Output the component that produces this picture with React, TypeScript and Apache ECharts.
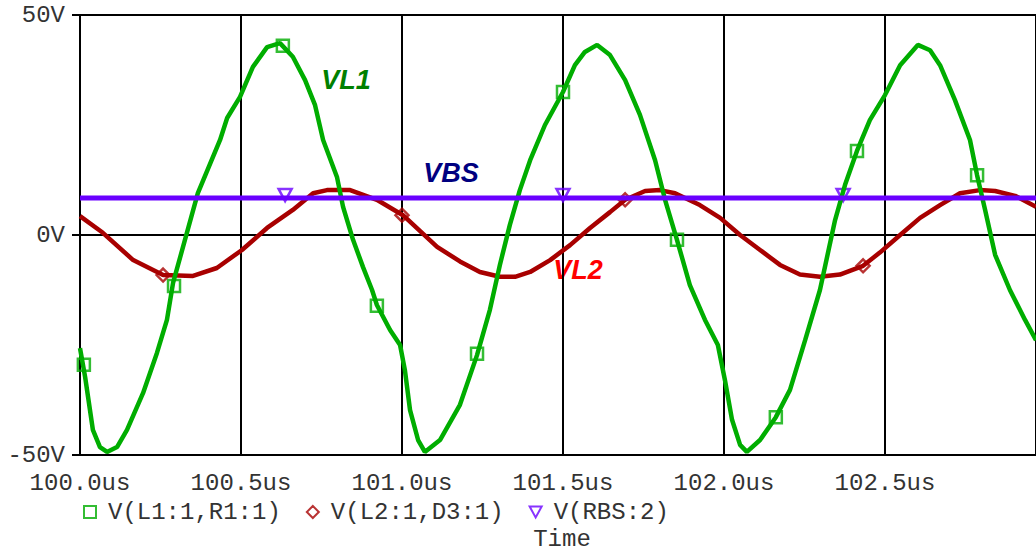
import React, { useEffect, useRef } from 'react';
import * as echarts from 'echarts';

// V(L1:1,R1:1) trace
const vl1Time = [100.000, 100.016, 100.025, 100.040, 100.062, 100.084, 100.115, 100.146, 100.196, 100.239, 100.270, 100.289, 100.366, 100.435, 100.457, 100.497, 100.537, 100.581, 100.621, 100.661, 100.699, 100.730, 100.755, 100.798, 100.817, 100.848, 100.879, 100.907, 100.922, 100.963, 100.994, 101.009, 101.025, 101.050, 101.071, 101.118, 101.180, 101.233, 101.273, 101.304, 101.335, 101.366, 101.398, 101.444, 101.500, 101.537, 101.568, 101.606, 101.646, 101.693, 101.739, 101.786, 101.817, 101.854, 101.894, 101.941, 101.981, 102.003, 102.025, 102.050, 102.071, 102.112, 102.161, 102.205, 102.252, 102.298, 102.345, 102.376, 102.413, 102.453, 102.500, 102.547, 102.602, 102.640, 102.671, 102.717, 102.764, 102.786, 102.811, 102.842, 102.888, 102.935, 102.969];
const vl1Values = [-25.7, -32.3, -36.8, -44.3, -48.2, -49.3, -48.2, -44.3, -35.9, -26.8, -19.3, -10.9, 9.5, 21.6, 26.6, 31.4, 38.2, 42.7, 43.6, 40.5, 35.2, 29.5, 21.6, 13.2, 6.4, -1.1, -7.3, -12.5, -15.9, -21.6, -25.0, -30.7, -39.8, -46.6, -49.3, -46.6, -38.6, -27.3, -17.0, -6.8, 2.3, 10.2, 17.0, 25.0, 32.5, 38.6, 41.6, 43.2, 40.9, 35.2, 27.3, 17.0, 8.0, -1.1, -11.4, -19.3, -25.0, -33.0, -42.0, -47.7, -49.3, -46.6, -41.4, -35.2, -23.9, -12.5, 3.4, 11.4, 19.1, 26.1, 31.8, 38.6, 43.2, 42.0, 38.6, 30.7, 21.6, 13.6, 5.7, -4.5, -12.5, -19.3, -23.9];
const vl1MarkerTime = [100.012, 100.292, 100.630, 100.922, 101.233, 101.500, 101.854, 102.161, 102.413, 102.786];
const vl1MarkerValues = [-29.5, -11.6, 43.0, -16.1, -27.0, 32.5, -1.1, -41.4, 19.1, 13.6];

// V(L2:1,D3:1) trace
const vl2Time = [100.000, 100.071, 100.165, 100.258, 100.351, 100.425, 100.503, 100.581, 100.661, 100.724, 100.767, 100.839, 100.922, 101.003, 101.109, 101.180, 101.242, 101.304, 101.351, 101.398, 101.460, 101.522, 101.584, 101.646, 101.693, 101.755, 101.801, 101.848, 101.925, 101.988, 102.050, 102.112, 102.174, 102.236, 102.298, 102.360, 102.432, 102.484, 102.547, 102.609, 102.671, 102.733, 102.795, 102.842, 102.904, 102.969];
const vl2Values = [4.3, 0.5, -5.7, -9.1, -9.3, -7.5, -3.4, 1.6, 5.7, 9.5, 10.2, 10.2, 8.0, 4.5, -2.7, -6.0, -8.4, -9.5, -9.5, -8.4, -5.7, -2.3, 1.6, 5.2, 8.0, 10.0, 10.2, 9.5, 6.8, 3.9, 0.0, -3.4, -6.8, -9.0, -9.5, -9.0, -7.0, -4.0, 0.0, 3.9, 6.8, 9.5, 10.2, 10.0, 8.9, 6.4];
const vl2MarkerTime = [100.258, 101.000, 101.693, 102.432];
const vl2MarkerValues = [-9.1, 4.5, 8.0, -7.0];

// V(RBS:2) trace
const vbsTime = [100.000, 102.969];
const vbsValues = [8.4, 8.4];
const vbsMarkerTime = [100.637, 101.500, 102.370];
const vbsMarkerValues = [8.4, 8.4, 8.4];

const legendNames = ['V(L1:1,R1:1)', 'V(L2:1,D3:1)', 'V(RBS:2)'];
const xTickLabelsUnit = 'us';
const yTickLabelsUnit = 'V';

const GREEN = '#00ad00';
const RED = '#a80000';
const BLUE = '#6a00ff';
const MONO = '"Liberation Mono", "Courier New", monospace';

const zip = (t: number[], v: number[]) => t.map((x, i) => [x, v[i]]);

export default function App() {
  const ref = useRef<HTMLDivElement>(null);
  useEffect(() => {
    document.body.style.margin = '0';
    const chart = echarts.init(ref.current!, null, { renderer: 'svg' });
    const option: any = {
      animation: false,
      backgroundColor: '#fff',
      grid: { left: 80, right: 0, top: 15, bottom: 98, containLabel: false, outerBoundsMode: 'none' },
      legend: {
        data: legendNames,
        left: 78,
        top: 495,
        itemWidth: 12,
        itemHeight: 12,
        itemGap: 25,
        textStyle: { fontFamily: MONO, fontSize: 24, color: '#333', padding: [0, 0, 0, 7] },
      },
      xAxis: {
        type: 'value',
        min: 100,
        max: 102.969,
        interval: 0.5,
        name: 'Time',
        nameLocation: 'middle',
        nameGap: 72,
        nameTextStyle: { fontFamily: MONO, fontSize: 24, color: '#333', padding: [0, 0, 0, 8] },
        axisLine: { show: true, lineStyle: { color: '#000', width: 2 } },
        axisTick: { show: true, length: 9, lineStyle: { color: '#000', width: 2 } },
        axisLabel: {
          fontFamily: MONO,
          fontSize: 24,
          color: '#333',
          margin: 16,
          showMaxLabel: false,
          formatter: (v: number) => v.toFixed(1) + xTickLabelsUnit,
        },
        splitLine: { show: true, lineStyle: { color: '#000', width: 2 } },
      },
      yAxis: {
        type: 'value',
        min: -50,
        max: 50,
        interval: 50,
        axisLine: { show: true, lineStyle: { color: '#000', width: 2 } },
        axisTick: { show: true, length: 8, lineStyle: { color: '#000', width: 2 } },
        axisLabel: {
          fontFamily: MONO,
          fontSize: 24,
          color: '#333',
          margin: 15,
          formatter: (v: number) => v + yTickLabelsUnit,
        },
        splitLine: { show: true, lineStyle: { color: '#000', width: 2 } },
      },
      series: [
        {
          name: 'VL2 trace',
          type: 'line',
          data: zip(vl2Time, vl2Values),
          showSymbol: false,
          lineStyle: { color: RED, width: 4.5 },
          itemStyle: { color: RED },
        },
        {
          name: 'VL1 trace',
          type: 'line',
          data: zip(vl1Time, vl1Values),
          showSymbol: false,
          lineStyle: { color: GREEN, width: 4.5 },
          itemStyle: { color: GREEN },
        },
        {
          name: 'VBS trace',
          type: 'line',
          data: zip(vbsTime, vbsValues),
          showSymbol: false,
          lineStyle: { color: BLUE, width: 5 },
          itemStyle: { color: BLUE },
        },
        {
          name: legendNames[0],
          type: 'scatter',
          data: zip(vl1MarkerTime, vl1MarkerValues),
          symbol: 'rect',
          symbolSize: 12,
          itemStyle: { color: 'rgba(0,0,0,0)', borderColor: GREEN, borderWidth: 2.5 },
        },
        {
          name: legendNames[1],
          type: 'scatter',
          data: zip(vl2MarkerTime, vl2MarkerValues),
          symbol: 'diamond',
          symbolSize: 13,
          itemStyle: { color: 'rgba(0,0,0,0)', borderColor: RED, borderWidth: 2.5 },
        },
        {
          name: legendNames[2],
          type: 'scatter',
          data: zip(vbsMarkerTime, vbsMarkerValues),
          symbol: 'path://M0,0L10,0L5,9Z',
          symbolSize: [13, 12],
          symbolOffset: [0, -3],
          itemStyle: { color: 'rgba(0,0,0,0)', borderColor: BLUE, borderWidth: 2.5 },
        },
      ],
      graphic: [
        { type: 'text', x: 346, y: 80, style: { text: 'VL1', fill: '#008000', font: 'italic bold 27px "Liberation Sans", Arial', align: 'center', verticalAlign: 'middle' } },
        { type: 'text', x: 451, y: 173, style: { text: 'VBS', fill: '#000080', font: 'italic bold 27px "Liberation Sans", Arial', align: 'center', verticalAlign: 'middle' } },
        { type: 'text', x: 578, y: 270, style: { text: 'VL2', fill: '#ff0000', font: 'italic bold 27px "Liberation Sans", Arial', align: 'center', verticalAlign: 'middle' } },
      ],
    };
    chart.setOption(option);
    return () => chart.dispose();
  }, []);
  return <div ref={ref} style={{ width: 1036, height: 553 }} />;
}
